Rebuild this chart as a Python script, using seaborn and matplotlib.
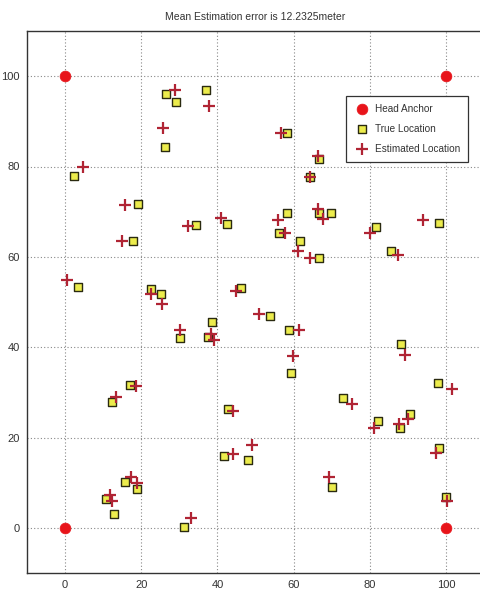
import matplotlib
matplotlib.use("Agg")
import matplotlib.pyplot as plt
import pandas as pd
import seaborn as sns

# anchors at the corners of the field
anchor_x = [0, 100, 0, 100]
anchor_y = [100, 100, 0, 0]

# true node positions
true_x = [26.5, 29.0, 36.9, 26.2, 2.3, 19.1, 34.4, 42.6, 17.8, 3.3,
          22.6, 25.2, 46.2, 58.3, 66.8, 64.4, 58.3, 56.2, 66.7, 69.7,
          61.7, 66.7, 81.7, 85.5, 98.2, 30.3, 38.5, 37.6, 17.1, 12.2,
          42.7, 41.8, 48.1, 15.7, 19.0, 10.8, 12.9, 31.2, 53.9, 58.9,
          59.4, 73.1, 88.2, 98.0, 82.2, 87.9, 90.6, 70.1, 98.2, 99.9]
true_y = [96.0, 94.3, 96.9, 84.3, 78.0, 71.8, 67.0, 67.3, 63.6, 53.3,
          52.8, 51.8, 53.0, 87.4, 81.7, 77.7, 69.6, 65.3, 69.6, 69.6,
          63.6, 59.8, 66.6, 61.2, 67.5, 42.0, 45.5, 42.2, 31.7, 27.8,
          26.3, 15.8, 15.1, 10.2, 8.6, 6.4, 3.0, 0.2, 47.0, 43.7,
          34.2, 28.7, 40.6, 32.1, 23.7, 22.0, 25.3, 9.1, 17.6, 6.9]

# estimated node positions
est_x = [28.9, 37.8, 25.7, 4.6, 15.8, 32.4, 40.9, 15.0, 0.6, 22.6,
         25.4, 44.9, 56.8, 66.5, 64.4, 55.8, 57.7, 66.5, 67.6, 61.2,
         64.3, 80.1, 87.5, 94.1, 30.3, 38.2, 39.1, 50.8, 18.7, 13.4,
         44.2, 44.2, 49.1, 17.2, 18.8, 11.8, 12.3, 33.1, 61.4, 59.9,
         75.3, 89.2, 101.5, 81.2, 87.8, 90.1, 69.4, 97.4, 100.2]
est_y = [96.9, 93.3, 88.5, 79.8, 71.5, 66.8, 68.7, 63.5, 54.9, 51.7,
         49.6, 52.5, 87.4, 82.3, 77.7, 68.1, 65.3, 70.7, 68.3, 61.4,
         59.8, 65.3, 60.3, 68.1, 43.7, 42.9, 41.5, 47.4, 31.3, 29.0,
         25.9, 16.3, 18.3, 11.2, 9.9, 7.2, 6.0, 2.2, 43.7, 38.1,
         27.4, 38.3, 30.8, 22.1, 23.0, 24.1, 11.2, 16.5, 6.0]

ticks = [0, 20, 40, 60, 80, 100]
mean_error = 12.2325

sns.set_theme(style="white")
plt.rcParams["font.family"] = ["Liberation Sans Narrow", "Liberation Sans", "DejaVu Sans"]

fig = plt.figure(figsize=(4.8, 5.97), dpi=100)
ax = fig.add_axes([27 / 480, 24 / 597, 457 / 480, 542 / 597])

anchors = pd.DataFrame({"x": anchor_x, "y": anchor_y})
true_df = pd.DataFrame({"x": true_x, "y": true_y})
est_df = pd.DataFrame({"x": est_x, "y": est_y})

sns.scatterplot(data=anchors, x="x", y="y", ax=ax, marker="o", s=60,
                color="#e8141a", edgecolor="#e8141a", linewidth=0.5,
                label="Head Anchor", zorder=3)
sns.scatterplot(data=true_df, x="x", y="y", ax=ax, marker="s", s=34,
                color="#ecec4c", edgecolor="#2a2a10", linewidth=1.0,
                label="True Location", zorder=3)
sns.scatterplot(data=est_df, x="x", y="y", ax=ax, marker="+", s=70,
                color="#b02434", linewidth=1.6,
                label="Estimated Location", zorder=4)

ax.set_xlim(-10, 110)
ax.set_ylim(-10, 110)
ax.set_xticks(ticks)
ax.set_yticks(ticks)
ax.set_xlabel("")
ax.set_ylabel("")
ax.grid(True, linestyle=(0, (1, 2)), color="#888888", linewidth=0.8)
ax.tick_params(direction="in", length=4, width=0.8, colors="#333333",
               labelsize=8, labelcolor="#333333", pad=5)
for sp in ax.spines.values():
    sp.set_color("#333333")
    sp.set_linewidth(1.0)

ax.set_title(f"Mean Estimation error is {mean_error}meter", fontsize=7.5,
             color="#333333", pad=8)

leg = ax.legend(loc="upper right", bbox_to_anchor=(0.965, 0.88), fontsize=7.2,
                frameon=True, fancybox=False, framealpha=1, borderpad=0.8,
                labelspacing=1.0, handletextpad=0.5, borderaxespad=0,
                handlelength=1.6)
leg.get_frame().set_edgecolor("#333333")
leg.get_frame().set_linewidth(0.9)
for t in leg.get_texts():
    t.set_color("#333333")

fig.savefig("out.png", dpi=100)
